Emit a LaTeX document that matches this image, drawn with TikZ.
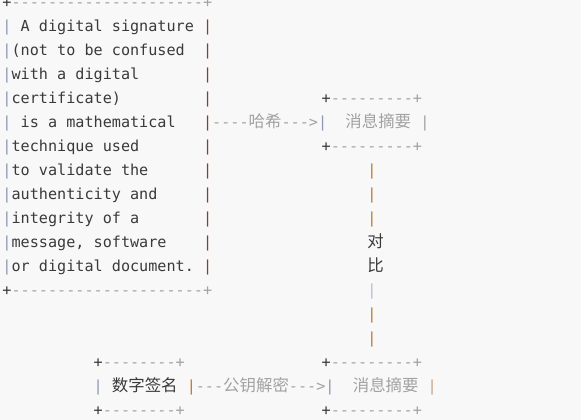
\documentclass[tikz,border=0pt]{standalone}
\usepackage{fontspec}
\setmonofont{DejaVu Sans Mono}
\newfontfamily\cjkfont{Noto Sans CJK SC}[Scale=1.085]
\usetikzlibrary{positioning}

\definecolor{bgc}{HTML}{F8F8F8}
\definecolor{ink}{HTML}{3A3A3A}
\definecolor{dim}{HTML}{A2A2A2}
\definecolor{pipeA}{HTML}{8A9AB4}
\definecolor{pipeB}{HTML}{8E3B2C}
\definecolor{pipeC}{HTML}{B97A33}
\definecolor{pipeD}{HTML}{C3A48C}
\definecolor{pipeE}{HTML}{B4BCD8}

\newcommand{\zh}[1]{{\cjkfont #1}}
\newcommand{\pa}{\textcolor{pipeA}{|}}
\newcommand{\pb}{\textcolor{pipeB}{|}}
\newcommand{\pc}{\textcolor{pipeC}{|}}
\newcommand{\dm}[1]{\textcolor{dim}{#1}}
\newcommand{\crn}{\textcolor{ink}{+}}
\def\cw{9.12pt}
\def\lh{24pt}

\begin{document}
\begin{tikzpicture}[node distance=0pt,
    ascii/.style={inner sep=0pt, outer sep=0pt, text height=17pt, text depth=7pt,
      font=\ttfamily\fontsize{15.15pt}{24pt}\selectfont, text=ink}]
			\useasboundingbox (0,0) rectangle (581pt,420pt);
			\fill[bgc] (0,0) rectangle (581pt,420pt);
			% text box
			\node[ascii,anchor=base west] (l_0) at (2.44pt,412.5pt) {\crn\dm{---------------------+}};
			\node[ascii] [below=of l_0] (l_1) {\pa\ A digital signature\ \pb};
			\node[ascii] [below=of l_1] (l_2) {\pa(not to be confused\ \ \pb};
			\node[ascii] [below=of l_2] (l_3) {\pa with a digital\ \ \ \ \ \ \ \pb};
			\node[ascii] [below=of l_3] (l_4) {\pa certificate)\ \ \ \ \ \ \ \ \ \pb};
			\node[ascii] [below=of l_4] (l_5) {\pa\ is a mathematical\ \ \ \pb};
			\node[ascii] [below=of l_5] (l_6) {\pa technique used\ \ \ \ \ \ \ \pb};
			\node[ascii] [below=of l_6] (l_7) {\pa to validate the\ \ \ \ \ \ \pb};
			\node[ascii] [below=of l_7] (l_8) {\pa authenticity and\ \ \ \ \ \pb};
			\node[ascii] [below=of l_8] (l_9) {\pa integrity of a\ \ \ \ \ \ \ \pb};
			\node[ascii] [below=of l_9] (l_10) {\pa message, software\ \ \ \ \pb};
			\node[ascii] [below=of l_10] (l_11) {\pa or digital document.\ \pb};
			\node[ascii] [below=of l_11] (l_12) {\crn\dm{---------------------+}};
			% hash -> digest
			\node[ascii] [right=of l_5] (a_1) {\dm{----\zh{哈希}--->}\pa\ \ \dm{\zh{消息摘要}\ |}};
			\node[ascii] [right=109.44pt of l_4] (d_4) {\crn\dm{---------+}};
			\node[ascii] [right=109.44pt of l_6] (d_6) {\crn\dm{---------+}};
			% compare
			\node[ascii] [right=155.04pt of l_7] (v_7) {\pc};
			\node[ascii] [right=155.04pt of l_8] (v_8) {\pc};
			\node[ascii] [right=155.04pt of l_9] (v_9) {\pc};
			\node[ascii] [right=155.04pt of l_10] (v_10) {\zh{对}};
			\node[ascii] [right=155.04pt of l_11] (v_11) {\zh{比}};
			\node[ascii] [right=155.04pt of l_12] (v_12) {\textcolor{pipeE}{|}};
			\node[ascii] [below=of v_12] (v_13) {\pc};
			\node[ascii] [below=of v_13] (v_14) {\pc};
			% signature -> digest
			\node[ascii,anchor=base west] (b_15) at ({2.44pt+10*\cw},{412.5pt-15*\lh}) {\crn\dm{--------+}};
			\node[ascii,anchor=base west] (b_16) at ({2.44pt+10*\cw},{412.5pt-16*\lh}) {\pa\ \zh{数字签名}\ \pc};
			\node[ascii,anchor=base west] (b_17) at ({2.44pt+10*\cw},{412.5pt-17*\lh}) {\crn\dm{--------+}};
			\node[ascii] [right=of b_16] (a_2) {\dm{---\zh{公钥解密}--->}\pa\ \ \dm{\zh{消息摘要}}\ \textcolor{pipeD}{|}};
			\node[ascii] [right=136.8pt of b_15] (c_15) {\crn\dm{---------+}};
			\node[ascii] [right=136.8pt of b_17] (c_17) {\crn\dm{---------+}};
		\end{tikzpicture}
\end{document}
